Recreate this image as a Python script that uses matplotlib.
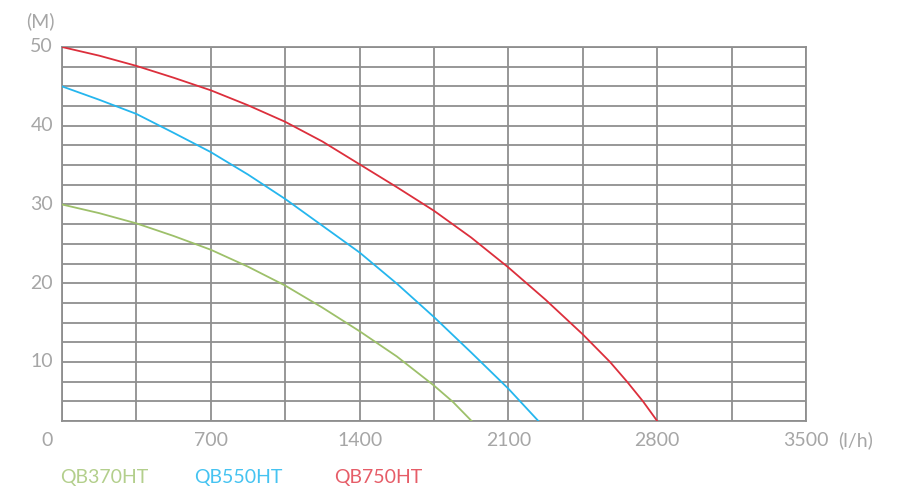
import matplotlib.pyplot as plt
from matplotlib.transforms import blended_transform_factory

# flow (l/h) and head (m)
qb370_q = [0, 175, 350, 525, 700, 875, 1050, 1225, 1400, 1575, 1750, 1840, 1927]
qb370_h = [30, 28.9, 27.6, 26.0, 24.25, 22.1, 19.7, 16.9, 13.9, 10.7, 7.0, 4.9, 2.5]

qb550_q = [0, 175, 350, 525, 700, 875, 1050, 1225, 1400, 1575, 1750, 1925, 2100, 2241]
qb550_h = [45, 43.3, 41.5, 39.1, 36.65, 33.8, 30.7, 27.3, 23.9, 19.95, 15.7, 11.2, 6.6, 2.5]

qb750_q = [0, 175, 350, 525, 700, 875, 1050, 1225, 1400, 1575, 1750, 1925, 2100, 2275, 2450, 2578, 2658, 2733, 2800]
qb750_h = [50, 48.9, 47.6, 46.1, 44.5, 42.6, 40.5, 38.0, 35.1, 32.2, 29.2, 25.8, 22.0, 17.9, 13.5, 10.0, 7.5, 5.0, 2.5]

series = [
    ('QB370HT', qb370_q, qb370_h, '#9dc06a', '#b3cf8c'),
    ('QB550HT', qb550_q, qb550_h, '#25b6ee', '#45c3f1'),
    ('QB750HT', qb750_q, qb750_h, '#dc2f3c', '#e65d68'),
]

x_labels = [700, 1400, 2100, 2800, 3500]
y_labels = [10, 20, 30, 40, 50]

plt.rcParams['font.family'] = ['Lato', 'DejaVu Sans']
txt_kw = dict(color='#a6a6a6', fontsize=14)

fig = plt.figure(figsize=(9, 5), dpi=100)
ax = fig.add_axes([62 / 900, 1 - 421 / 500, 744 / 900, 374 / 500])
ax.set_xlim(0, 3500)
ax.set_ylim(2.5, 50)

# grid
grid_c = '#8f8f8f'
for gx in range(0, 3501, 350):
    ax.axvline(gx, color=grid_c, lw=1.3, zorder=1)
for i in range(20):
    ax.axhline(2.5 + 2.5 * i, color=grid_c, lw=1.3, zorder=1)
for s in ax.spines.values():
    s.set_color(grid_c)
    s.set_linewidth(1.3)

ax.set_xticks([])
ax.set_yticks([])

for name, q, h, lc, tc in series:
    ax.plot(q, h, color=lc, lw=1.3, zorder=3, solid_joinstyle='round')

# tick labels
tx = blended_transform_factory(ax.transData, fig.transFigure)
for v in x_labels:
    ax.text(v, 1 - 440 / 500, str(v), transform=tx, ha='center', va='center', **txt_kw)
fig.text(47 / 900, 1 - 440 / 500, '0', ha='center', va='center', **txt_kw)

ty = blended_transform_factory(fig.transFigure, ax.transData)
for v in y_labels:
    ax.text(53 / 900, v, str(v), transform=ty, ha='right', va='center', **txt_kw)

fig.text(40 / 900, 1 - 21 / 500, '(M)', ha='center', va='center', **txt_kw)
fig.text(856 / 900, 1 - 440 / 500, '(l/h)', ha='center', va='center', **txt_kw)

# legend as plain text
for (name, q, h, lc, tc), lx in zip(series, [60, 194, 334]):
    fig.text(lx / 900, 1 - 478 / 500, name, ha='left', va='center',
             color=tc, fontsize=14)

fig.savefig('out.png', dpi=100)
